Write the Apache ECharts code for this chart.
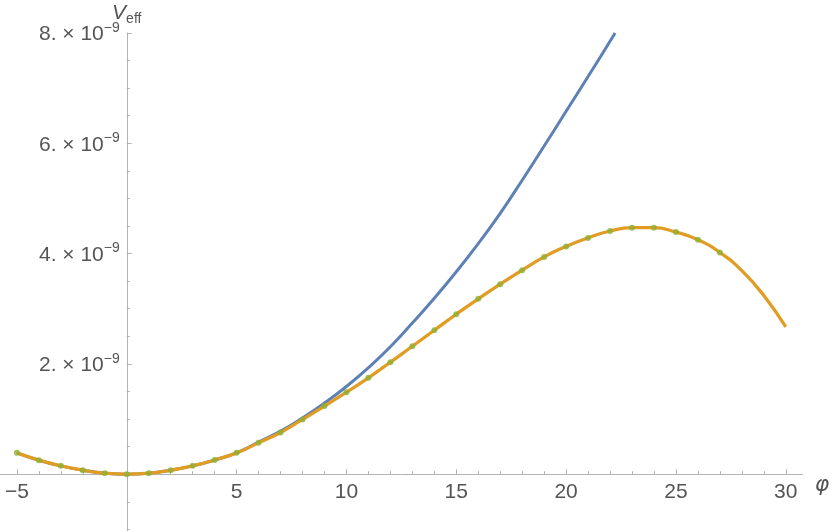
<!DOCTYPE html>
<html>
<head>
<meta charset="utf-8">
<script src="https://cdn.jsdelivr.net/npm/echarts@6/dist/echarts.min.js"></script>
<style>
html,body{margin:0;padding:0;background:#fff;}
#chart{width:830px;height:531px;}
</style>
</head>
<body>
<div id="chart"></div>
<script>
// Values of V_eff are in units of 1e-9
const bluePhi = [-5,-4,-3,-2,-1,0,1,2,3,4,5,6,7,8,9,10,11,12,13,14,15,16,17,18,19,20,21,22,22.23];
const blueV   = [0.387,0.254,0.151,0.073,0.018,0,0.018,0.073,0.151,0.257,0.387,0.58,0.78,1.02,1.29,1.59,1.93,2.31,2.74,3.19,3.67,4.18,4.73,5.33,5.95,6.58,7.21,7.85,8.0];

const orangePhi = [-5,-4,-3,-2,-1,0,1,2,3,4,5,6,7,8,9,10,11,12,13,14,15,16,17,18,19,20,21,22,23,24,25,26,27,28,29,30];
const orangeV   = [0.387,0.254,0.151,0.073,0.018,0,0.018,0.073,0.151,0.257,0.387,0.568,0.757,0.993,1.235,1.487,1.747,2.03,2.32,2.61,2.90,3.18,3.445,3.70,3.94,4.13,4.285,4.41,4.47,4.47,4.39,4.25,4.02,3.69,3.24,2.67];

const pointPhi = [-5,-4,-3,-2,-1,0,1,2,3,4,5,6,7,8,9,10,11,12,13,14,15,16,17,18,19,20,21,22,23,24,25,26,27];
const pointV   = [0.387,0.254,0.151,0.073,0.018,0,0.018,0.073,0.151,0.257,0.387,0.568,0.757,0.993,1.235,1.487,1.747,2.03,2.32,2.61,2.90,3.18,3.445,3.70,3.94,4.13,4.285,4.41,4.47,4.47,4.39,4.25,4.02];

const xMajorTicks = [-5,0,5,10,15,20,25,30];
const xLabelTicks = [-5,5,10,15,20,25,30];
const xMinorTicks = [-4,-3,-2,-1,1,2,3,4,6,7,8,9,11,12,13,14,16,17,18,19,21,22,23,24,26,27,28,29];
const yMajorTicks = [0,2,4,6,8];
const yLabelTicks = [2,4,6,8];
const yMinorTicks = [-1,-0.5,0.5,1,1.5,2.5,3,3.5,4.5,5,5.5,6.5,7,7.5];

const pair = (xs, ys) => xs.map((x, i) => [x, ys[i]]);

const axisColor = '#b3b3b3';
const labelColor = '#555555';
const fontFam = 'Liberation Sans, Arial, sans-serif';
const X_MIN = -5.77, X_MAX = 30.77, Y_MIN = -1.03, Y_MAX = 8;

const chart = echarts.init(document.getElementById('chart'), null, {renderer: 'canvas'});
chart.setOption({
  animation: false,
  backgroundColor: '#ffffff',
  grid: {left: 0, right: 27.3, top: 33, bottom: 0, containLabel: false, outerBoundsMode: 'none'},
  xAxis: [
    {
      type: 'value', min: X_MIN, max: X_MAX, position: 'bottom', offset: 0,
      axisLine: {show: true, onZero: false, lineStyle: {color: axisColor, width: 1}},
      axisTick: {show: true, inside: true, length: 5, customValues: xMajorTicks, lineStyle: {color: axisColor}},
      axisLabel: {show: true, customValues: xLabelTicks, margin: 8, color: labelColor, fontSize: 21, fontFamily: fontFam,
        formatter: v => (v < 0 ? '\u2212' + Math.abs(v) : String(v))},
      splitLine: {show: false},
      name: '\u03c6', nameLocation: 'end', nameGap: 12, nameMoveOverlap: false,
      nameTextStyle: {fontStyle: 'italic', fontSize: 22, lineHeight: 22, color: labelColor,
        fontFamily: 'DejaVu Sans, sans-serif', verticalAlign: 'top', align: 'left'}
    },
    {
      type: 'value', min: X_MIN, max: X_MAX, position: 'bottom', offset: 0,
      axisLine: {show: false, onZero: false},
      axisTick: {show: true, inside: true, length: 3, customValues: xMinorTicks, lineStyle: {color: axisColor}},
      axisLabel: {show: false},
      splitLine: {show: false}
    }
  ],
  yAxis: [
    {
      type: 'value', min: Y_MIN, max: Y_MAX, position: 'left', offset: 0,
      axisLine: {show: true, onZero: false, lineStyle: {color: axisColor, width: 1}},
      axisTick: {show: true, inside: true, length: 5, customValues: yMajorTicks, lineStyle: {color: axisColor}},
      axisLabel: {show: true, customValues: yLabelTicks, margin: 7, color: labelColor,
        formatter: v => '{m|' + v + '. \u00d7 10}{e|\u22129}',
        rich: {
          m: {fontSize: 21, fontFamily: fontFam, color: labelColor, verticalAlign: 'bottom'},
          e: {fontSize: 14, fontFamily: fontFam, color: labelColor, verticalAlign: 'bottom', padding: [0, 0, 10, 0]}
        }
      },
      splitLine: {show: false},
      name: '{v|V}{s|eff}', nameLocation: 'end', nameGap: 7, nameMoveOverlap: false,
      nameTextStyle: {
        align: 'center', verticalAlign: 'bottom',
        rich: {
          v: {fontSize: 21, lineHeight: 21, fontStyle: 'italic', fontFamily: fontFam, color: labelColor, verticalAlign: 'bottom', padding: [0, 0, 2, 0]},
          s: {fontSize: 14, lineHeight: 14, fontFamily: fontFam, color: labelColor, verticalAlign: 'bottom'}
        }
      }
    },
    {
      type: 'value', min: Y_MIN, max: Y_MAX, position: 'left', offset: 0,
      axisLine: {show: false, onZero: false},
      axisTick: {show: true, inside: true, length: 3, customValues: yMinorTicks, lineStyle: {color: axisColor}},
      axisLabel: {show: false},
      splitLine: {show: false}
    }
  ],
  series: [
    {
      type: 'line', name: 'blue', xAxisIndex: 0, yAxisIndex: 0,
      data: pair(bluePhi, blueV), smooth: true, showSymbol: false, symbol: 'none',
      lineStyle: {color: '#5E81B5', width: 3}, clip: true, z: 2
    },
    {
      type: 'line', name: 'orange', xAxisIndex: 0, yAxisIndex: 0,
      data: pair(orangePhi, orangeV), smooth: true, showSymbol: false, symbol: 'none',
      lineStyle: {color: '#E19C24', width: 3.3}, clip: true, z: 3
    },
    {
      type: 'scatter', name: 'points', xAxisIndex: 0, yAxisIndex: 0,
      data: pair(pointPhi, pointV), symbol: 'circle', symbolSize: 6,
      itemStyle: {color: '#8FB032'}, z: 4
    }
  ]
});

// Move axes so they cross at the origin (axes drawn through zero, like the reference)
const origin = chart.convertToPixel({xAxisIndex: 0, yAxisIndex: 0}, [0, 0]);
const corner = chart.convertToPixel({xAxisIndex: 0, yAxisIndex: 0}, [X_MIN, Y_MIN]);
const xOff = -(corner[1] - origin[1]);
const yOff = -(origin[0] - corner[0]);
chart.setOption({
  xAxis: [{offset: xOff}, {offset: xOff}],
  yAxis: [{offset: yOff}, {offset: yOff}]
});
</script>
</body>
</html>
